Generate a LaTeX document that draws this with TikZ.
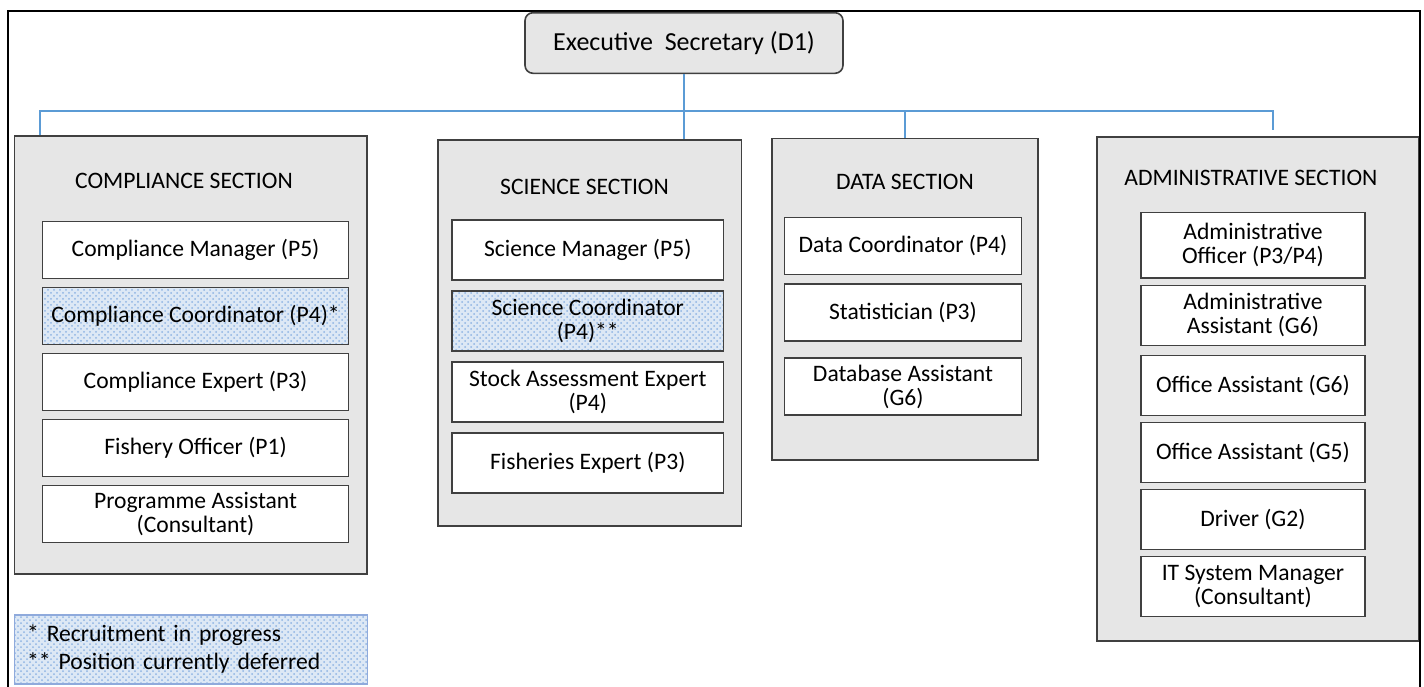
\documentclass[tikz,border=0pt]{standalone}
\usepackage{fontspec}
\setmainfont{Carlito}
\usetikzlibrary{positioning,patterns}

\definecolor{linkblue}{HTML}{5B9BD5}
\definecolor{boxgray}{HTML}{E6E6E6}
\definecolor{edgegray}{HTML}{404040}
\definecolor{dotfill}{HTML}{DDE8F5}
\definecolor{dotblue}{HTML}{8FB4E3}
\definecolor{keyedge}{HTML}{8FAADC}

\tikzset{
  boxline/.style={draw=edgegray, line width=0.8pt},
  post/.style={boxline, fill=white, inner sep=1pt, minimum width=#1, minimum height=28.5pt},
  vacant/.style={boxline, inner sep=1pt, minimum width=#1, minimum height=28.5pt,
                 preaction={fill=dotfill}, pattern=crosshatch dots, pattern color=dotblue},
  link/.style={draw=linkblue, line width=1pt}
}

\begin{document}
\begin{tikzpicture}[x=0.5pt,y=-0.5pt,on grid,
    every node/.style={font=\fontsize{11.8}{12}\selectfont, align=center},
    sect/.style={boxline, fill=boxgray, anchor=north, minimum width=#1},
    key/.style={draw=keyedge, line width=0.6pt, preaction={fill=dotfill},
                pattern=crosshatch dots, pattern color=dotblue, align=left,
                text width=163.9pt, inner xsep=6.3pt, minimum height=34.5pt,
                font=\fontsize{11.8}{14}\selectfont}]

  \useasboundingbox (0,0) rectangle (1424,686);
  % outer frame, open at the bottom
  \draw[line width=1pt] (8,700) -- (8,10.7) -- (1419.5,10.7) -- (1419.5,700);

  \node[boxline, fill=boxgray, rounded corners=4pt, minimum width=159pt, minimum height=30.3pt,
        font=\fontsize{13}{15}\selectfont] (exec) at (684,43) {Executive~ Secretary (D1)};

  % the four sections
  \node[sect=176.25pt, minimum height=219pt] (cmpsec) at (190.75,135) {};
  \node[sect=151.75pt, minimum height=193pt] (scisec) at (589.75,139) {};
  \node[sect=133pt, minimum height=160.65pt] (datsec) at (905,137.7) {};
  \node[sect=160.75pt, minimum height=252pt] (admsec) at (1257.75,136) {};

  \node (cmplbl) at ([xshift=-3.4pt,yshift=-23pt]cmpsec.north) {COMPLIANCE SECTION};
  \node (scilbl) at ([xshift=-2.6pt,yshift=-24pt]scisec.north) {SCIENCE SECTION};
  \node (datlbl) at ([yshift=-22pt]datsec.north) {DATA SECTION};
  \node (admlbl) at ([xshift=-3.4pt,yshift=-21pt]admsec.north) {ADMINISTRATIVE SECTION};

  % compliance posts
  \node[post=153pt] (cmpman) at ([xshift=2.4pt,yshift=-57.5pt]cmpsec.north) {Compliance Manager (P5)};
  \node[vacant=153pt, below=33pt of cmpman] (cmpcoord) {Compliance Coordinator (P4)*};
  \node[post=153pt, below=33pt of cmpcoord] (cmpexp) {Compliance Expert (P3)};
  \node[post=153pt, below=33pt of cmpexp] (fishoff) {Fishery Officer (P1)};
  \node[post=153pt, below=33pt of fishoff] (progasst) {Programme Assistant\\(Consultant)};

  % science posts
  \node[post=135.75pt, minimum height=30pt] (sciman) at ([xshift=-1pt,yshift=-55.35pt]scisec.north) {Science Manager (P5)};
  \node[vacant=135.75pt, minimum height=30pt, below=35.5pt of sciman] (scicoord) {Science Coordinator\\(P4)**};
  \node[post=135.75pt, minimum height=30pt, below=35.5pt of scicoord] (stockexp) {Stock Assessment Expert\\(P4)};
  \node[post=135.75pt, minimum height=30pt, below=35.5pt of stockexp] (fishexp) {Fisheries Expert (P3)};

  % data posts
  \node[post=118.5pt] (datcoord) at ([xshift=-1pt,yshift=-54.15pt]datsec.north) {Data Coordinator (P4)};
  \node[post=118.5pt, below=33.25pt of datcoord] (stat) {Statistician (P3)};
  \node[post=118.5pt, below=37pt of stat] (dbasst) {Database Assistant\\(G6)};

  % administrative posts
  \node[post=112.25pt, minimum height=32.75pt] (admoff) at ([xshift=-2.4pt,yshift=-54.65pt]admsec.north) {Administrative\\Officer (P3/P4)};
  \node[post=112.25pt, minimum height=30pt, below=35pt of admoff] (admasst) {Administrative\\Assistant (G6)};
  \node[post=112.25pt, minimum height=30pt, below=35pt of admasst] (offg6) {Office Assistant (G6)};
  \node[post=112.25pt, minimum height=30pt, below=33.5pt of offg6] (offg5) {Office Assistant (G5)};
  \node[post=112.25pt, minimum height=30pt, below=33.5pt of offg5] (driver) {Driver (G2)};
  \node[post=112.25pt, minimum height=30pt, below=33.5pt of driver] (itman) {IT System Manager\\(Consultant)};

  % legend
  \node[key, anchor=north west] (legend) at (14,614.3) {* Recruitment in progress\\{}** Position currently deferred};

  % reporting lines
  \coordinate (busL) at (39.5,110.7);
  \coordinate (busR) at (1272.5,110.7);
  \coordinate (admtip) at (1272.5,130);
  \draw[link] (exec.south) -- (exec.south |- scisec.north);
  \draw[link] (cmpsec.north -| busL) -- (busL) -- (busR) -- (admtip);
  \draw[link] (datsec.north) -- (datsec.north |- busL);
\end{tikzpicture}
\end{document}
